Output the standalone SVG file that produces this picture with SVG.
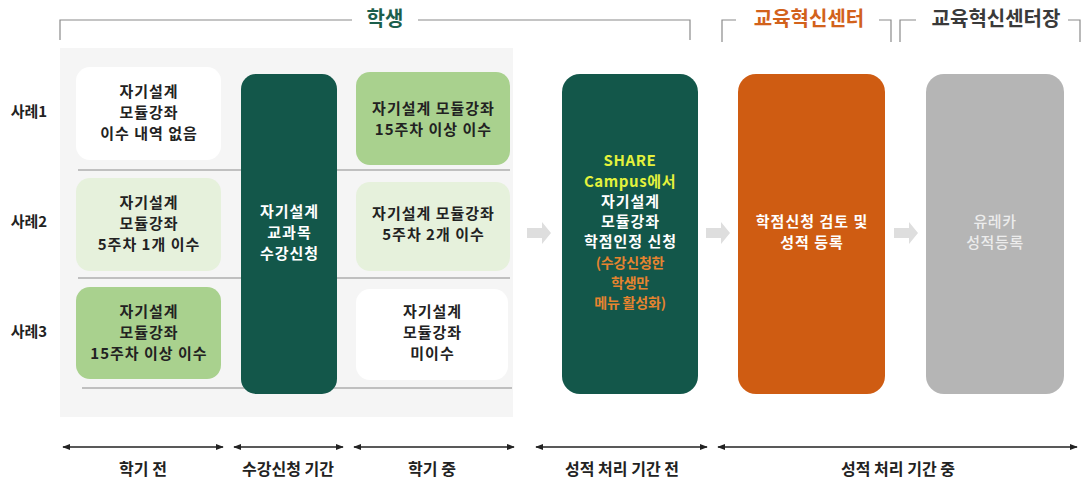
<svg xmlns="http://www.w3.org/2000/svg" width="1084" height="482" viewBox="0 0 1084 482">
  <defs>
    <style>
      text { font-family: "Noto Sans CJK KR", "Noto Sans", sans-serif; font-weight: 700; text-anchor: middle; }
      .t15 { font-size: 15px; fill: #222; letter-spacing: 1px; }
      .w15 { font-size: 15px; fill: #ffffff; letter-spacing: 1px; }
      .yl { font-size: 15px; fill: #e4f23c; letter-spacing: 0.6px; }
      .or { font-size: 14px; fill: #e6842f; letter-spacing: -0.2px; }
      .gy { font-size: 15px; fill: #ececec; font-weight: 500; letter-spacing: 0.6px; }
      .row { font-size: 15px; fill: #222; }
      .head { font-size: 20px; }
      .tl { font-size: 16px; fill: #222; }
      .bracket { fill: none; stroke: #8a8a8a; stroke-width: 1.2; }
      .sep { stroke: #8c8c8c; stroke-width: 1.2; }
      .span { stroke: #222; stroke-width: 1.6; marker-start: url(#ah); marker-end: url(#ah); }
      .flow { fill: #dedede; }
      .white { fill: #ffffff; }
      .light { fill: #e6f1dc; }
      .mid { fill: #a9d18e; }
      .dark { fill: #13574a; }
    </style>
    <marker id="ah" viewBox="0 0 10 10" refX="9" refY="5" markerWidth="5" markerHeight="5" orient="auto-start-reverse" markerUnits="strokeWidth">
      <path d="M0,1 L10,5 L0,9 Z" fill="#222"/>
    </marker>
  </defs>

  <rect width="1084" height="482" fill="#ffffff"/>

  <!-- headers -->
  <g id="header-student">
    <polyline class="bracket" points="60,40 60,20 352,20"/>
    <polyline class="bracket" points="418,20 690,20 690,40"/>
    <text class="head" x="385" y="26" fill="#1b5e4c">학생</text>
  </g>
  <g id="header-center">
    <polyline class="bracket" points="722,42 722,20 736,20"/>
    <polyline class="bracket" points="879,20 891,20 891,42"/>
    <text class="head" x="809" y="26" fill="#d2621b">교육혁신센터</text>
  </g>
  <g id="header-director">
    <polyline class="bracket" points="900,42 900,20 916,20"/>
    <polyline class="bracket" points="1068,20 1080,20 1080,42"/>
    <text class="head" x="996" y="26" fill="#3a3a3a">교육혁신센터장</text>
  </g>

  <!-- panel -->
  <rect id="panel" x="60" y="48" width="453" height="369" fill="#f5f5f5"/>

  <!-- separators -->
  <g id="separators">
    <line class="sep" x1="78" y1="170" x2="510" y2="170"/>
    <line class="sep" x1="78" y1="278" x2="510" y2="278"/>
    <line class="sep" x1="82" y1="388" x2="512" y2="388"/>
  </g>

  <!-- row labels -->
  <g id="row-labels">
    <text class="row" x="29" y="117">사례1</text>
    <text class="row" x="29" y="227">사례2</text>
    <text class="row" x="29" y="337">사례3</text>
  </g>

  <!-- column 1 -->
  <g id="case1-before">
    <rect class="white" x="76" y="67" width="145" height="93" rx="14"/>
    <text class="t15" x="149" y="97">자기설계</text>
    <text class="t15" x="149" y="118">모듈강좌</text>
    <text class="t15" x="149" y="139">이수 내역 없음</text>
  </g>
  <g id="case2-before">
    <rect class="light" x="76" y="178" width="145" height="93" rx="14"/>
    <text class="t15" x="149" y="208">자기설계</text>
    <text class="t15" x="149" y="229">모듈강좌</text>
    <text class="t15" x="149" y="250">5주차 1개 이수</text>
  </g>
  <g id="case3-before">
    <rect class="mid" x="76" y="287" width="145" height="92" rx="14"/>
    <text class="t15" x="149" y="317">자기설계</text>
    <text class="t15" x="149" y="338">모듈강좌</text>
    <text class="t15" x="149" y="359">15주차 이상 이수</text>
  </g>

  <!-- column 2 -->
  <g id="registration">
    <rect class="dark" x="241" y="74" width="96" height="320" rx="15"/>
    <text class="w15" x="289.5" y="217">자기설계</text>
    <text class="w15" x="289.5" y="238">교과목</text>
    <text class="w15" x="289.5" y="259">수강신청</text>
  </g>

  <!-- column 3 -->
  <g id="case1-during">
    <rect class="mid" x="356" y="72" width="154" height="93" rx="14"/>
    <text class="t15" x="433.5" y="114">자기설계 모듈강좌</text>
    <text class="t15" x="433.5" y="135">15주차 이상 이수</text>
  </g>
  <g id="case2-during">
    <rect class="light" x="356" y="182" width="154" height="89" rx="14"/>
    <text class="t15" x="433.5" y="219">자기설계 모듈강좌</text>
    <text class="t15" x="433.5" y="240">5주차 2개 이수</text>
  </g>
  <g id="case3-during">
    <rect class="white" x="356" y="289" width="152" height="91" rx="14"/>
    <text class="t15" x="432.5" y="317">자기설계</text>
    <text class="t15" x="432.5" y="338">모듈강좌</text>
    <text class="t15" x="432.5" y="359">미이수</text>
  </g>

  <!-- SHARE -->
  <g id="share-campus">
    <rect class="dark" x="562" y="74" width="136" height="320" rx="18"/>
    <text class="yl" x="630" y="166">SHARE</text>
    <text class="yl" x="630" y="187">Campus에서</text>
    <text class="w15" x="630.5" y="207">자기설계</text>
    <text class="w15" x="630.5" y="227">모듈강좌</text>
    <text class="w15" x="630.5" y="247">학점인정 신청</text>
    <text class="or" x="630" y="268">(수강신청한</text>
    <text class="or" x="630" y="288">학생만</text>
    <text class="or" x="630" y="308">메뉴 활성화)</text>
  </g>

  <!-- orange -->
  <g id="review">
    <rect x="738" y="74" width="147" height="320" rx="18" fill="#cf5c12"/>
    <text class="w15" x="812" y="227">학점신청 검토 및</text>
    <text class="w15" x="812" y="248">성적 등록</text>
  </g>

  <!-- gray -->
  <g id="eureka">
    <rect x="926" y="74" width="138" height="320" rx="18" fill="#b5b5b5"/>
    <text class="gy" x="995" y="227">유레카</text>
    <text class="gy" x="995" y="248">성적등록</text>
  </g>

  <!-- connectors -->
  <g id="connectors">
    <path class="flow" d="M527,228 H542 V222 L551,233 L542,244 V238 H527 Z"/>
    <path class="flow" d="M706,228 H721 V222 L730,233 L721,244 V238 H706 Z"/>
    <path class="flow" d="M894,228 H909 V222 L918,233 L909,244 V238 H894 Z"/>
  </g>

  <!-- timeline -->
  <g id="timeline">
    <line class="span" x1="63" y1="447" x2="223" y2="447"/>
    <line class="span" x1="234" y1="447" x2="343" y2="447"/>
    <line class="span" x1="354" y1="447" x2="514" y2="447"/>
    <line class="span" x1="536" y1="447" x2="707" y2="447"/>
    <line class="span" x1="718" y1="447" x2="1077" y2="447"/>
    <text class="tl" x="143" y="475">학기 전</text>
    <text class="tl" x="288" y="475">수강신청 기간</text>
    <text class="tl" x="432" y="475">학기 중</text>
    <text class="tl" x="622" y="475">성적 처리 기간 전</text>
    <text class="tl" x="898" y="475">성적 처리 기간 중</text>
  </g>
</svg>
